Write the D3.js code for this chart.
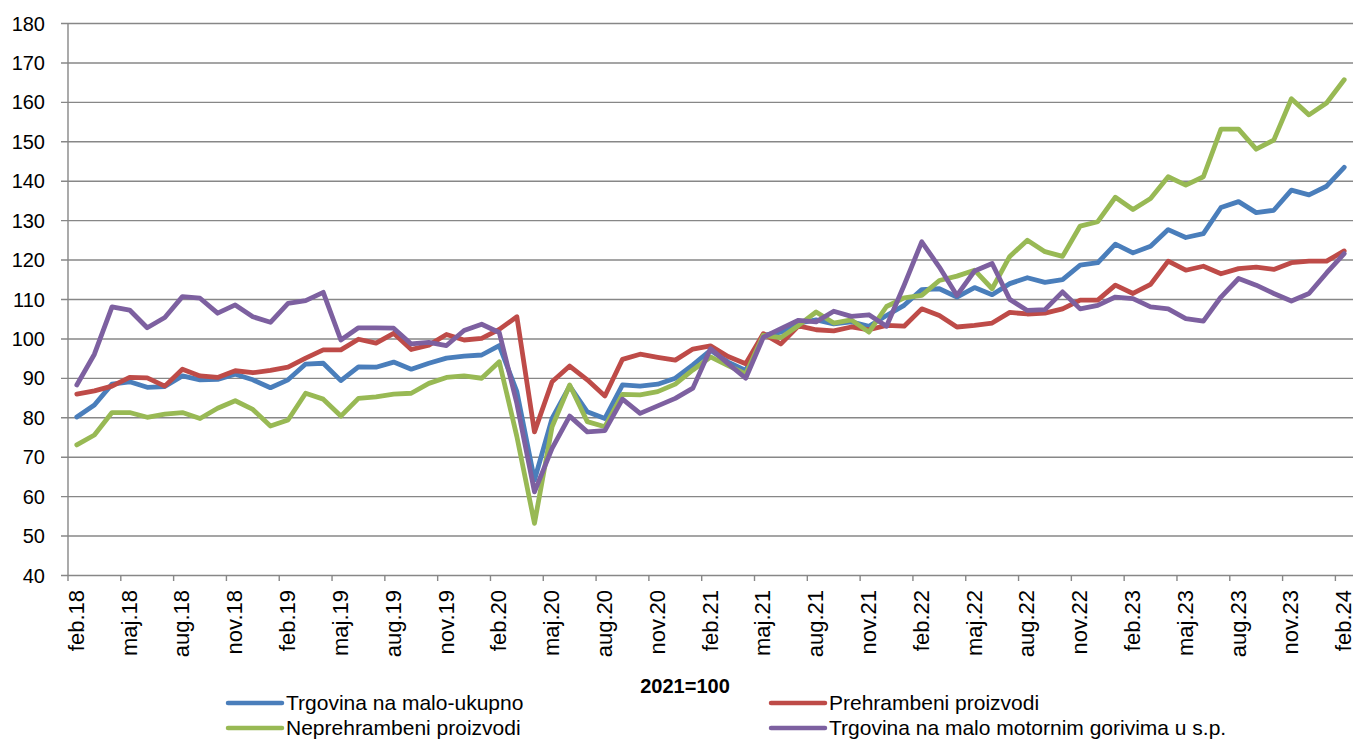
<!DOCTYPE html>
<html>
<head>
<meta charset="utf-8">
<script src="https://d3js.org/d3.v7.min.js"></script>
<style>
  body { margin: 0; background: #fff; }
  svg text { font-family: "Liberation Sans", Arial, sans-serif; fill: #000; }
</style>
</head>
<body>
<script>
// month names (Serbian, latin) and the first month / year of the series
var monthNames = ["jan", "feb", "mar", "apr", "maj", "jun", "jul", "aug", "sep", "okt", "nov", "dec"];
var startMonth = 1;   // feb
var startYear = 18;
var nPoints = 73;     // feb.18 .. feb.24

var categories = [];
for (var i = 0; i < nPoints; i++) {
    var m = (startMonth + i) % 12;
    var yr = startYear + Math.floor((startMonth + i) / 12);
    categories.push(monthNames[m] + "." + yr);
}

var yTicks = [40, 50, 60, 70, 80, 90, 100, 110, 120, 130, 140, 150, 160, 170, 180];

var ukupno = [80.1, 83.1, 88.4, 89.0, 87.6, 87.8, 90.5, 89.5, 89.6, 90.9, 89.5, 87.5, 89.5, 93.5, 93.7, 89.3,
    92.8, 92.7, 94.0, 92.2, 93.7, 95.0, 95.5, 95.8, 98.2, 86.5, 64.1, 79.7, 87.9, 81.4, 79.7, 88.2,
    87.9, 88.4, 89.9, 93.3, 97.0, 94.0, 91.9, 100.8, 101.6, 103.9, 104.7, 103.7, 104.2, 103.1, 105.8, 108.4,
    112.4, 112.6, 110.5, 112.9, 111.1, 113.9, 115.4, 114.2, 114.9, 118.6, 119.2, 123.9, 121.7, 123.4, 127.6, 125.6,
    126.6, 133.2, 134.7, 131.9, 132.5, 137.6, 136.4, 138.6, 143.4];

var prehrambeni = [85.9, 86.7, 87.9, 90.1, 90.0, 87.9, 92.2, 90.5, 90.1, 91.8, 91.3, 91.9, 92.7, 95.0, 97.1, 97.1,
    99.8, 98.8, 101.3, 97.2, 98.3, 101.0, 99.6, 100.0, 102.3, 105.5, 76.3, 89.0, 93.0, 89.5, 85.4, 94.7,
    96.0, 95.2, 94.5, 97.3, 98.1, 95.4, 93.6, 101.2, 98.6, 103.2, 102.2, 101.9, 102.9, 102.2, 103.3, 103.1,
    107.5, 105.8, 102.9, 103.3, 103.9, 106.6, 106.2, 106.4, 107.5, 109.7, 109.7, 113.5, 111.4, 113.7, 119.6, 117.3,
    118.3, 116.4, 117.7, 118.1, 117.5, 119.2, 119.6, 119.6, 122.2];

var neprehrambeni = [73.0, 75.5, 81.2, 81.2, 80.0, 80.8, 81.2, 79.7, 82.3, 84.2, 82.0, 77.8, 79.3, 86.1, 84.6, 80.3,
    84.8, 85.2, 85.9, 86.1, 88.6, 90.1, 90.5, 89.9, 94.1, 75.1, 53.1, 77.6, 88.2, 78.9, 77.6, 85.8,
    85.7, 86.5, 88.4, 92.0, 95.3, 93.1, 91.0, 100.8, 100.2, 103.3, 106.7, 103.9, 104.7, 101.6, 108.1, 110.3,
    110.9, 114.7, 115.8, 117.3, 112.6, 120.8, 124.9, 122.0, 120.8, 128.5, 129.6, 135.8, 132.7, 135.5, 141.0, 138.9,
    141.0, 153.1, 153.1, 148.0, 150.3, 160.8, 156.7, 159.7, 165.6];

var gorivo = [88.2, 96.0, 108.0, 107.2, 102.7, 105.3, 110.6, 110.2, 106.4, 108.5, 105.5, 104.1, 108.9, 109.6, 111.7, 99.6,
    102.7, 102.7, 102.6, 98.6, 99.0, 98.2, 102.0, 103.6, 101.5, 83.5, 61.1, 72.1, 80.3, 76.3, 76.6, 84.6,
    81.0, 82.9, 84.8, 87.4, 97.4, 93.6, 89.9, 100.3, 102.5, 104.6, 104.2, 106.9, 105.6, 106.0, 103.1, 113.5,
    124.5, 118.1, 110.9, 117.1, 119.0, 109.9, 107.1, 107.3, 111.8, 107.5, 108.4, 110.5, 110.1, 108.0, 107.5, 105.0,
    104.4, 110.5, 115.2, 113.5, 111.4, 109.5, 111.4, 116.6, 121.5];

var seriesNames = ["Trgovina na malo-ukupno", "Prehrambeni proizvodi", "Neprehrambeni proizvodi", "Trgovina na malo motornim gorivima u s.p."];
var seriesColors = ["#4a7ebb", "#be4b48", "#98b954", "#7d60a0"];
var seriesValues = [ukupno, prehrambeni, neprehrambeni, gorivo];

var width = 1357, height = 740;
var plotLeft = 68, plotRight = 1353, plotTop = 23, plotBottom = 575;

var svg = d3.select("body").append("svg").attr("width", width).attr("height", height);

var x = d3.scaleBand().domain(categories).range([plotLeft, plotRight]).padding(0);
var yScale = d3.scaleLinear().domain([40, 180]).range([plotBottom, plotTop]);

// horizontal gridlines + y axis labels (axis drawn from the right edge so tick lines become gridlines)
var yAxis = d3.axisLeft(yScale).tickValues(yTicks).tickSize(plotRight - plotLeft + 7).tickFormat(d3.format("d"));
var gy = svg.append("g").attr("transform", "translate(" + plotRight + ",0)").call(yAxis);
gy.select(".domain").remove();
gy.selectAll("line").attr("stroke", "#878787").attr("stroke-width", 1.4);
gy.selectAll("text")
    .attr("x", -(plotRight - plotLeft) - 23)
    .attr("dy", "0.35em")
    .style("font-size", "20px");

// vertical axis line
svg.append("line").attr("x1", plotLeft).attr("x2", plotLeft).attr("y1", plotTop).attr("y2", plotBottom)
    .attr("stroke", "#878787").attr("stroke-width", 1.4);

// x axis: ticks at category boundaries every 3 months, labels at category centres
var boundaryTicks = categories.filter(function (d, i) { return i % 3 === 0; });
svg.selectAll(".xtick").data(boundaryTicks).enter().append("line")
    .attr("x1", function (d) { return x(d); })
    .attr("x2", function (d) { return x(d); })
    .attr("y1", plotBottom).attr("y2", plotBottom + 6)
    .attr("stroke", "#878787").attr("stroke-width", 1.4);

svg.selectAll(".xlab").data(boundaryTicks).enter().append("text")
    .attr("text-anchor", "end")
    .attr("transform", function (d) { return "translate(" + (x(d) + x.bandwidth() / 2) + "," + (plotBottom + 15) + ") rotate(-90)"; })
    .attr("dy", "0.32em")
    .style("font-size", "22px")
    .text(function (d) { return d; });

// the series lines
var line = d3.line()
    .x(function (d, i) { return x(categories[i]) + x.bandwidth() / 2; })
    .y(function (d) { return yScale(d); });

seriesValues.forEach(function (vals, k) {
    svg.append("path")
        .datum(vals)
        .attr("d", line)
        .attr("fill", "none")
        .attr("stroke", seriesColors[k])
        .attr("stroke-width", 4.8)
        .attr("stroke-linejoin", "round")
        .attr("stroke-linecap", "round");
});

// base label
svg.append("text").attr("x", 685).attr("y", 693).attr("text-anchor", "middle")
    .style("font-size", "20px").style("font-weight", "bold").text("2021=100");

// legend (2 columns x 2 rows)
var legendPos = [[228, 703], [771, 703], [228, 728], [771, 728]];
seriesNames.forEach(function (name, k) {
    var p = legendPos[k];
    svg.append("line").attr("x1", p[0]).attr("x2", p[0] + 54).attr("y1", p[1]).attr("y2", p[1])
        .attr("stroke", seriesColors[k]).attr("stroke-width", 4.5).attr("stroke-linecap", "round");
    svg.append("text").attr("x", p[0] + 58).attr("y", p[1] + 7)
        .style("font-size", "21px").text(name);
});
</script>
</body>
</html>
